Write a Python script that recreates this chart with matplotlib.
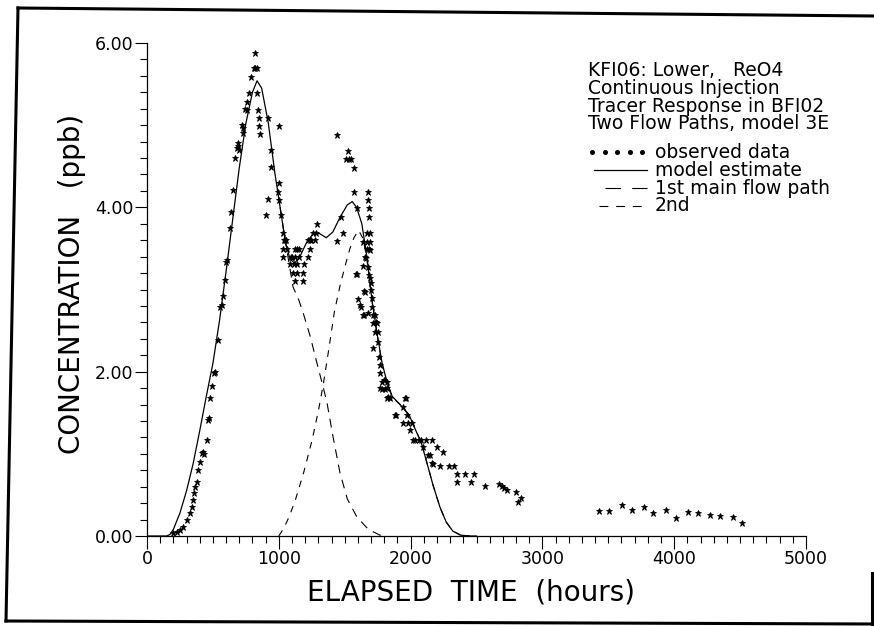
import matplotlib.pyplot as plt
from matplotlib.lines import Line2D
from matplotlib.ticker import MultipleLocator, FormatStrFormatter

obs_t = [197, 228, 250, 273, 303, 326, 341, 349, 357, 364, 379, 387, 402, 417, 425,
         429, 455, 463, 471, 478, 492, 508, 513, 539, 554, 569, 577, 592, 600, 607,
         630, 637, 653, 668, 683, 690, 694, 698, 721, 725, 728, 744, 759, 762, 774,
         789, 812, 819, 823, 834, 834, 842, 850, 850, 857, 903, 918, 918, 941, 941,
         994, 1002, 1002, 1002, 1017, 1032, 1032, 1032, 1040, 1047, 1055, 1062, 1085, 1092, 1100,
         1108, 1115, 1123, 1123, 1123, 1138, 1138, 1138, 1153, 1153, 1184, 1184, 1191, 1222, 1222,
         1237, 1237, 1248, 1260, 1275, 1282, 1290, 1442, 1442, 1472, 1487, 1510, 1525, 1533,
         1548, 1571, 1571, 1586, 1593, 1593, 1601, 1616, 1624, 1639, 1639, 1639, 1647, 1647, 1654,
         1655, 1662, 1670, 1670, 1670, 1677, 1677, 1677, 1677, 1685, 1685, 1685, 1685, 1692, 1692,
         1692, 1692, 1700, 1700, 1707, 1707, 1715, 1715, 1715, 1730, 1730, 1740, 1745, 1753, 1753,
         1760, 1768, 1768, 1768, 1783, 1783, 1795, 1806, 1821, 1821, 1821, 1829, 1844, 1882, 1890,
         1942, 1942, 1958, 1965, 1973, 1980, 1995, 2011, 2018, 2035, 2060, 2077, 2094, 2120, 2132,
         2147, 2162, 2163, 2170, 2200, 2226, 2247, 2289, 2332, 2352, 2352, 2415, 2458, 2479, 2565,
         2670, 2691, 2712, 2733, 2796, 2817, 2838, 3429, 3505, 3603, 3680, 3771, 3840, 3937, 4013,
         4105, 4180, 4272, 4348, 4446, 4515]
obs_c = [0.04, 0.05, 0.07, 0.11, 0.19, 0.28, 0.35, 0.44, 0.52, 0.60, 0.66, 0.80, 0.90, 1.01, 1.02,
         1.00, 1.17, 1.41, 1.44, 1.68, 1.82, 1.98, 2.00, 2.39, 2.79, 2.81, 2.92, 3.12, 3.33, 3.36,
         3.75, 3.94, 4.21, 4.60, 4.72, 4.78, 4.75, 4.70, 5.00, 4.97, 4.90, 5.20, 5.28, 5.18, 5.39,
         5.59, 5.70, 5.88, 5.70, 5.70, 5.39, 5.19, 5.09, 4.99, 4.89, 3.91, 5.09, 4.10, 4.70, 4.49,
         4.19, 4.99, 4.30, 4.09, 3.91, 3.69, 3.49, 3.40, 3.60, 3.60, 3.60, 3.49, 3.31, 3.40, 3.40,
         3.20, 3.31, 3.49, 3.40, 3.10, 3.49, 3.31, 3.20, 3.49, 3.40, 3.10, 3.20, 3.31, 3.40, 3.60,
         3.49, 3.60, 3.60, 3.69, 3.60, 3.69, 3.80, 4.88, 3.59, 3.88, 3.69, 4.59, 4.68, 4.59,
         4.59, 4.48, 4.19, 3.19, 3.99, 3.19, 2.88, 2.81, 2.79, 3.58, 3.29, 2.69, 2.98, 2.69, 2.97,
         3.40, 3.38, 3.69, 3.58, 3.49, 4.19, 4.09, 3.27, 2.71, 3.99, 3.88, 3.18, 3.49, 3.69, 3.58,
         3.48, 3.14, 3.08, 2.99, 2.90, 2.79, 2.69, 2.59, 2.29, 2.69, 2.48, 2.60, 2.59, 2.48, 2.36,
         2.18, 2.08, 1.98, 1.80, 1.87, 1.79, 1.90, 1.79, 1.87, 1.68, 1.80, 1.69, 1.68, 1.47, 1.47,
         1.57, 1.37, 1.68, 1.68, 1.47, 1.37, 1.29, 1.37, 1.17, 1.17, 1.17, 1.17, 1.08, 1.17, 0.99,
         0.99, 1.17, 0.89, 0.88, 1.08, 0.85, 1.02, 0.85, 0.85, 0.75, 0.66, 0.75, 0.66, 0.75, 0.61,
         0.63, 0.61, 0.58, 0.56, 0.54, 0.41, 0.46, 0.30, 0.30, 0.38, 0.32, 0.35, 0.28, 0.32, 0.22,
         0.29, 0.28, 0.26, 0.24, 0.23, 0.16]

# model estimate (sum of both flow paths)
model_t = [0, 150, 175, 200, 250, 300, 350, 400, 450, 500, 550, 600, 650, 700, 750,
           800, 835, 870, 920, 970, 1010, 1050, 1085, 1120, 1160, 1210, 1260, 1310, 1360, 1410,
           1465, 1520, 1557, 1590, 1630, 1670, 1707, 1745, 1783, 1820, 1860, 1920, 1990, 2035, 2080,
           2124, 2170, 2223, 2270, 2320, 2380, 2450, 2500]
model_c = [0, 0, 0.02, 0.08, 0.28, 0.55, 0.88, 1.28, 1.70, 2.10, 2.62, 3.22, 3.85, 4.48, 5.02,
           5.40, 5.54, 5.45, 5.03, 4.42, 4.00, 3.58, 3.37, 3.32, 3.40, 3.57, 3.68, 3.68, 3.63, 3.70,
           3.88, 4.03, 4.07, 4.00, 3.80, 3.38, 2.87, 2.47, 2.11, 1.88, 1.70, 1.60, 1.47, 1.30, 1.14,
           0.89, 0.62, 0.35, 0.17, 0.06, 0.01, 0, 0]

# 1st main flow path
path1_t = [1010, 1050, 1080, 1108, 1150, 1184, 1240, 1290, 1337, 1366, 1410, 1464, 1520, 1593, 1680,
           1768, 1810]
path1_c = [4.00, 3.58, 3.30, 3.03, 2.88, 2.72, 2.42, 2.10, 1.81, 1.62, 1.22, 0.77, 0.45, 0.23, 0.08,
           0.01, 0]

# 2nd flow path
path2_t = [1000, 1040, 1080, 1126, 1190, 1253, 1300, 1338, 1380, 1422, 1465, 1507, 1540, 1570, 1605,
           1640, 1670, 1707, 1745, 1783, 1820, 1860, 1920, 1990, 2035, 2080, 2124, 2170, 2223, 2270,
           2320, 2380, 2450]
path2_c = [0, 0.10, 0.24, 0.44, 0.78, 1.17, 1.52, 1.85, 2.28, 2.73, 3.05, 3.31, 3.50, 3.63, 3.72,
           3.62, 3.35, 2.86, 2.46, 2.10, 1.87, 1.69, 1.60, 1.47, 1.30, 1.14, 0.89, 0.62, 0.35, 0.17,
           0.06, 0.01, 0]

title_lines = ["KFI06: Lower,   ReO4", "Continuous Injection",
               "Tracer Response in BFI02", "Two Flow Paths, model 3E"]
legend_labels = ["observed data", "model estimate", "1st main flow path", "2nd"]

W, H = 874, 626
fig = plt.figure(figsize=(W / 100, H / 100), dpi=100)
ax = fig.add_axes([147 / W, 1 - 536 / H, (806 - 147) / W, (536 - 43) / H])

ax.plot(model_t, model_c, color="black", lw=0.9)
ax.plot(path1_t, path1_c, color="black", lw=0.8, dashes=(8, 6))
ax.plot(path2_t, path2_c, color="black", lw=0.8, dashes=(6, 6))
ax.plot(obs_t, obs_c, ls="none", marker="*", ms=5, color="black", mew=0.6)

ax.set_xlim(0, 5000)
ax.set_ylim(0, 6)
ax.xaxis.set_major_locator(MultipleLocator(1000))
ax.xaxis.set_minor_locator(MultipleLocator(100))
ax.yaxis.set_major_locator(MultipleLocator(2))
ax.yaxis.set_minor_locator(MultipleLocator(0.2))
ax.yaxis.set_major_formatter(FormatStrFormatter("%.2f"))
ax.tick_params(which="major", direction="out", length=9, width=0.8, labelsize=12.5)
ax.tick_params(which="minor", direction="out", length=5, width=0.8)
ax.tick_params(axis="x", which="major", pad=1)
ax.tick_params(axis="y", which="major", pad=1)
ax.spines["top"].set_visible(False)
ax.spines["right"].set_visible(False)
for s in ("left", "bottom"):
    ax.spines[s].set_linewidth(0.9)

fig.text(72 / W, 1 - 284 / H, "CONCENTRATION   (ppb)", rotation=90,
         ha="center", va="center", fontsize=20)
fig.text(471 / W, 1 - 592 / H, "ELAPSED  TIME  (hours)",
         ha="center", va="center", fontsize=20)

# annotation block
for i, line in enumerate(title_lines):
    fig.text(588 / W, 1 - (71 + 17.5 * i) / H, line, ha="left", va="center", fontsize=13.5)

rows = [152, 170, 188, 206]
for y, lab in zip(rows, legend_labels):
    fig.text(655 / W, 1 - y / H, lab, ha="left", va="center", fontsize=13.5)

yy = 1 - rows[0] / H
fig.add_artist(Line2D([592 / W + k * 12.5 / W for k in range(5)], [yy] * 5, transform=fig.transFigure,
                      ls="none", marker="o", ms=2.6, color="black"))
yy = 1 - rows[1] / H
fig.add_artist(Line2D([594 / W, 647 / W], [yy, yy], transform=fig.transFigure, color="black", lw=0.9))
yy = 1 - rows[2] / H
fig.add_artist(Line2D([605 / W, 647 / W], [yy, yy], transform=fig.transFigure, color="black",
                      lw=0.8, dashes=(14, 10)))
yy = 1 - rows[3] / H
fig.add_artist(Line2D([599 / W, 647 / W], [yy, yy], transform=fig.transFigure, color="black",
                      lw=0.8, dashes=(8, 7)))

# scanned page frame
frame = [((18, 8), (874, 16)), ((18, 8), (6, 621)), ((6, 621), (874, 624)), ((872, 573), (872, 626))]
for (x0, y0), (x1, y1) in frame:
    fig.add_artist(Line2D([x0 / W, x1 / W], [1 - y0 / H, 1 - y1 / H],
                          transform=fig.transFigure, color="black", lw=2.2))

fig.savefig("out.png", dpi=100)
